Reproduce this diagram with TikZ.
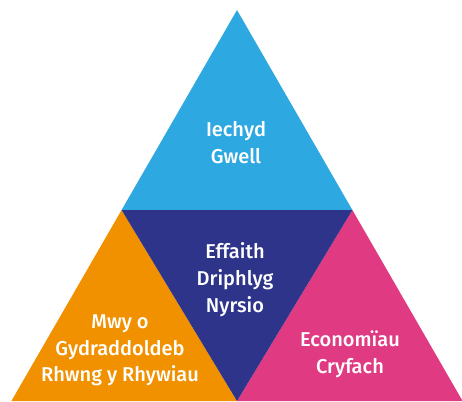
\documentclass[tikz,border=0pt]{standalone}
\usepackage{fontspec}
\setmainfont{Fira Sans}[UprightFont=* Medium]
\definecolor{iechydblue}{RGB}{46,168,224}
\definecolor{gydorange}{RGB}{241,145,0}
\definecolor{effnavy}{RGB}{46,52,138}
\definecolor{econpink}{RGB}{224,58,130}

\begin{document}
\begin{tikzpicture}[scale=0.2]
\tikzstyle{every node}+=[inner sep=0pt]
\tikzstyle{label}=[text=white, align=center, font=\fontsize{11.4}{15.2}\selectfont]
\useasboundingbox (0,0) rectangle (46.2,-40.1);

\coordinate (apex) at (23.7,-1.0);
\coordinate (midL) at (12.16,-21.0);
\coordinate (midR) at (35.24,-21.0);
\coordinate (botL) at (1.14,-40.1);
\coordinate (botM) at (23.7,-40.1);
\coordinate (botR) at (46.26,-40.1);

\fill [iechydblue] (apex) -- (midR) -- (midL) -- cycle;
\fill [gydorange] (midL) -- (botM) -- (botL) -- cycle;
\fill [econpink] (midR) -- (botR) -- (botM) -- cycle;
\fill [effnavy] (midL) -- (midR) -- (botM) -- cycle;

\node [label] (iechyd) at (23.6,-14.25) {Iechyd\\Gwell};
\node [label] (effaith) at (23.5,-27.95) {Effaith\\Driphlyg\\Nyrsio};
\node [label] (gydradd) at (12.0,-35.05) {Mwy o\\Gydraddoldeb\\Rhwng y Rhywiau};
\node [label] (econ) at (35.0,-35.4) {Economïau\\Cryfach};
\end{tikzpicture}
\end{document}
